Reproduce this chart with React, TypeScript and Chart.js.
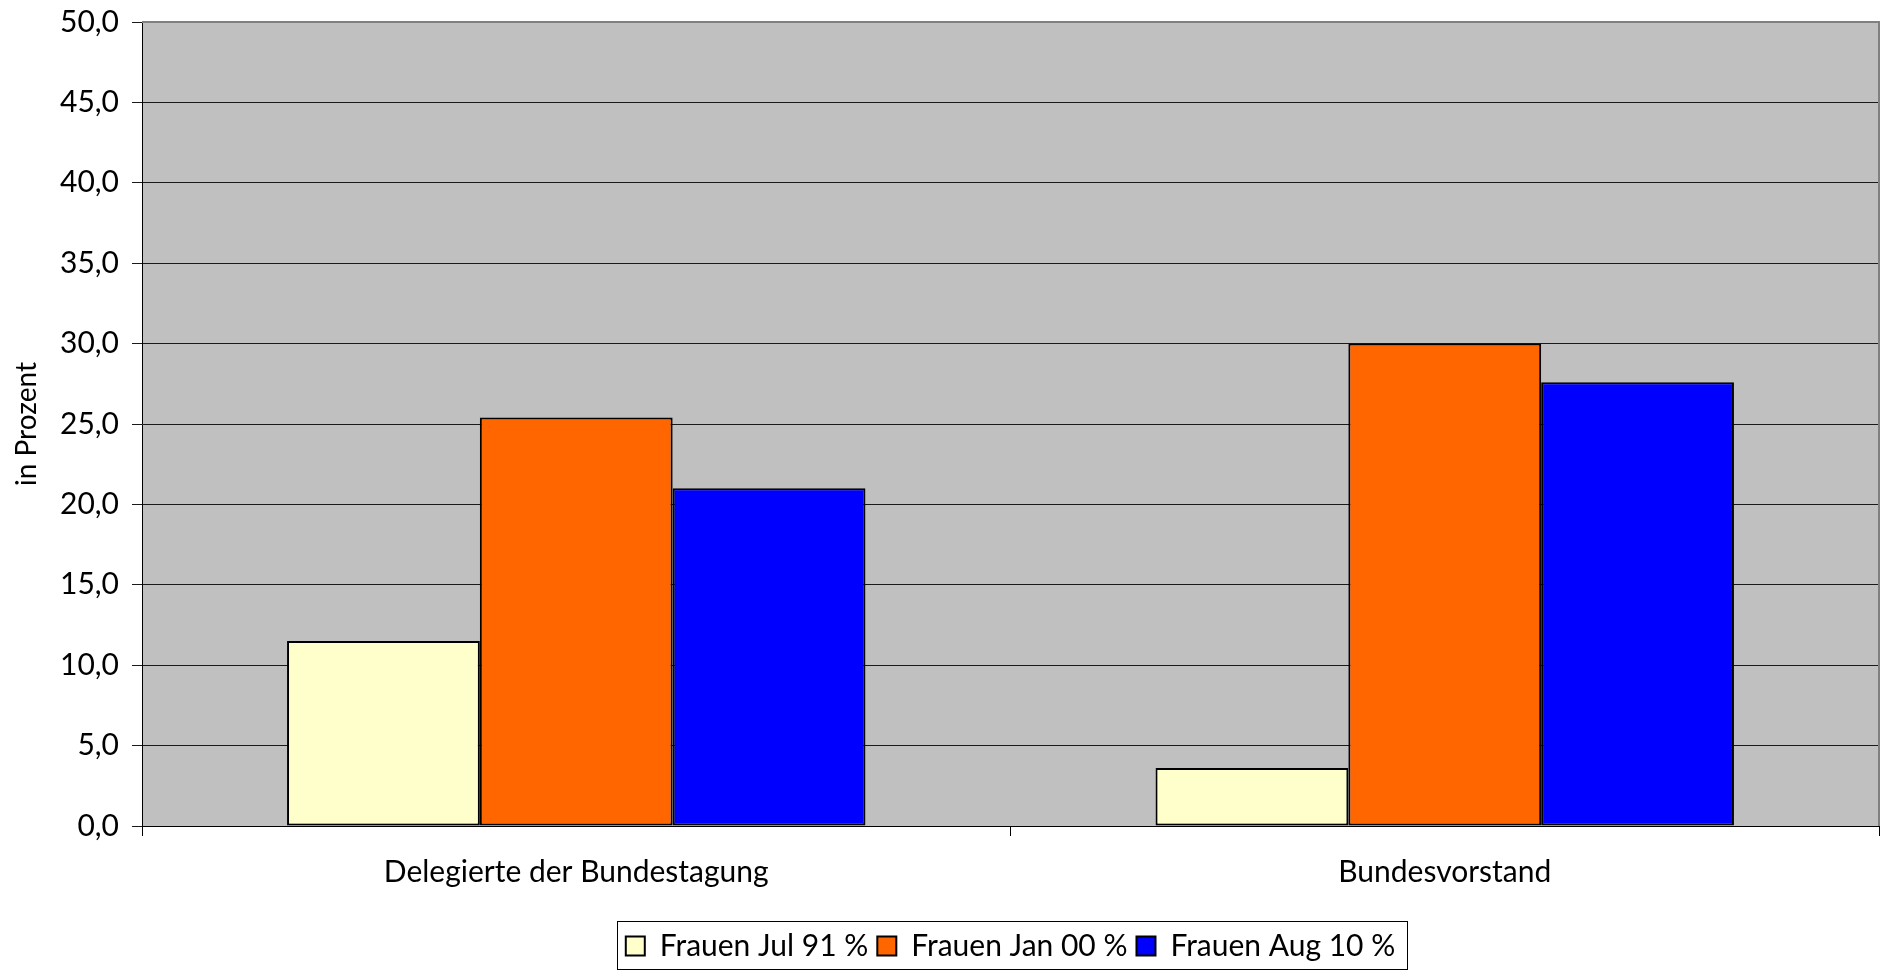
import React, { useEffect, useRef } from "react";
import { Chart, registerables } from "chart.js";

Chart.register(...registerables);

const categories = ["Delegierte der Bundestagung", "Bundesvorstand"];
const seriesNames = ["Frauen Jul 91 %", "Frauen Jan 00 %", "Frauen Aug 10 %"];
const jul91 = [11.5, 3.6];
const jan00 = [25.4, 30.0];
const aug10 = [21.0, 27.6];
const seriesColors = ["#FFFFCC", "#FF6600", "#0000FF"];
const yTitle = "in Prozent";

const FONT = "Lato";

const plotDecor = {
  id: "plotDecor",
  beforeDraw(chart: any) {
    const { ctx, chartArea: a } = chart;
    ctx.save();
    ctx.fillStyle = "#C0C0C0";
    ctx.fillRect(a.left, a.top, a.right - a.left, a.bottom - a.top);
    ctx.restore();
  },
  afterDraw(chart: any) {
    const { ctx, chartArea: a } = chart;
    ctx.save();
    ctx.strokeStyle = "#808080";
    ctx.lineWidth = 2;
    ctx.beginPath();
    ctx.moveTo(a.left, a.top);
    ctx.lineTo(a.right, a.top);
    ctx.lineTo(a.right, a.bottom);
    ctx.stroke();
    const hb = chart.legend && chart.legend.legendHitBoxes;
    if (hb && hb.length) {
      let l = Infinity, r = -Infinity, t = Infinity, b = -Infinity;
      hb.forEach((h: any) => {
        l = Math.min(l, h.left);
        r = Math.max(r, h.left + h.width);
        t = Math.min(t, h.top);
        b = Math.max(b, h.top + h.height);
      });
      ctx.strokeStyle = "#000";
      ctx.lineWidth = 1;
      ctx.strokeRect(Math.round(l - 9) + 0.5, Math.round(t - 10) + 0.5, Math.round(r - l + 21), Math.round(b - t + 18));
    }
    ctx.restore();
  },
};

export default function App() {
  const ref = useRef<HTMLCanvasElement | null>(null);
  useEffect(() => {
    document.body.style.margin = "0";
    if (!ref.current) return;
    const values = [jul91, jan00, aug10];
    const chart = new Chart(ref.current, {
      type: "bar",
      data: {
        labels: categories,
        datasets: seriesNames.map((n, i) => ({
          label: n,
          data: values[i],
          backgroundColor: seriesColors[i],
          borderColor: "#000",
          borderWidth: 2,
          borderSkipped: false,
          categoryPercentage: 0.666,
          barPercentage: 1,
        })),
      },
      options: {
        animation: false,
        responsive: true,
        maintainAspectRatio: false,
        layout: { padding: { top: 22, right: 4, left: 0, bottom: 0 } },
        plugins: {
          tooltip: { enabled: false },
          legend: {
            position: "bottom",
            fullSize: false,
            labels: {
              font: { family: FONT, size: 30 },
              color: "#000",
              boxWidth: 19,
              boxHeight: 19,
              padding: 9,
            },
          },
        },
        scales: {
          x: {
            afterFit: (s: any) => {
              s.height = 96;
            },
            grid: {
              display: true,
              drawOnChartArea: false,
              drawTicks: true,
              tickLength: 10,
              color: "#000",
            },
            border: { display: true, color: "#000", width: 1 },
            ticks: {
              font: { family: FONT, size: 30 },
              color: "#000",
              padding: 18,
              maxRotation: 0,
            },
          },
          y: {
            min: 0,
            max: 50,
            afterFit: (s: any) => {
              s.width = 142;
              s.paddingTop = 0;
              s.paddingBottom = 0;
            },
            grid: {
              color: "#1a1a1a",
              lineWidth: 1,
              drawTicks: true,
              tickLength: 10,
            },
            border: { display: true, color: "#000", width: 1 },
            ticks: {
              stepSize: 5,
              font: { family: FONT, size: 30 },
              color: "#000",
              padding: 13,
              callback: (v: any) => Number(v).toFixed(1).replace(".", ","),
            },
            title: {
              display: true,
              text: yTitle,
              font: { family: FONT, size: 28 },
              color: "#000",
              padding: { top: 10, bottom: 4 },
            },
          },
        },
      },
      plugins: [plotDecor],
    });
    return () => chart.destroy();
  }, []);
  return (
    <div style={{ width: 1883, height: 971, position: "relative" }}>
      <canvas ref={ref} />
    </div>
  );
}
